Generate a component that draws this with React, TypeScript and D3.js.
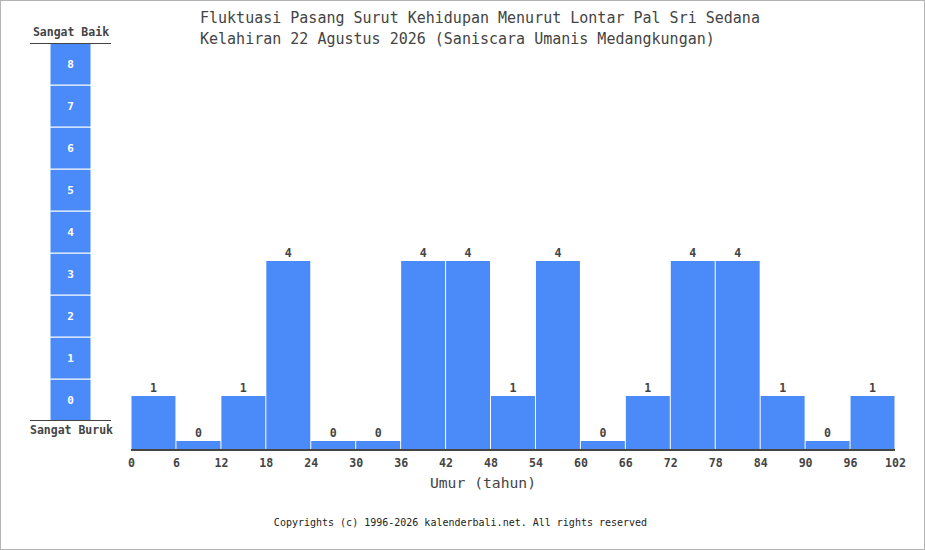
import React, { useEffect, useRef } from "react";
import * as d3 from "d3";

// values per 6-year period
const ages: number[] = [0, 6, 12, 18, 24, 30, 36, 42, 48, 54, 60, 66, 72, 78, 84, 90, 96];
const values: number[] = [1, 0, 1, 4, 0, 0, 4, 4, 1, 4, 0, 1, 4, 4, 1, 0, 1];
const xTicks: number[] = [0, 6, 12, 18, 24, 30, 36, 42, 48, 54, 60, 66, 72, 78, 84, 90, 96, 102];
const scaleLevels: number[] = [0, 1, 2, 3, 4, 5, 6, 7, 8];

const titleLines: string[] = [
  "Fluktuasi Pasang Surut Kehidupan Menurut Lontar Pal Sri Sedana",
  "Kelahiran 22 Agustus 2026 (Saniscara Umanis Medangkungan)",
];

const width = 925;
const height = 550;
const blue = "#4b8bf9";
const ink = "#444";
const mono = "'DejaVu Sans Mono', 'Liberation Mono', monospace";

const App = () => {
  const ref: any = useRef(null);

  useEffect(() => {
    d3.select(ref.current).selectAll("*").remove();

    const svg = d3
      .select(ref.current)
      .append("svg")
      .attr("width", width)
      .attr("height", height)
      .attr("viewBox", `0 0 ${width} ${height}`)
      .style("position", "absolute")
      .style("left", "0px")
      .style("top", "0px")
      .style("font-family", mono);

    svg
      .append("rect")
      .attr("x", 0.5)
      .attr("y", 0.5)
      .attr("width", width - 1)
      .attr("height", height - 1)
      .attr("fill", "#fff")
      .attr("stroke", "#b4b4b4");

    // title
    titleLines.forEach((t, i) => {
      svg
        .append("text")
        .attr("x", 200)
        .attr("y", 23 + i * 21)
        .attr("fill", ink)
        .style("font-size", "15px")
        .text(t);
    });

    // Scales
    const xScale = d3.scaleLinear().domain([0, 102]).range([131, 895]);
    const yScale = d3.scaleLinear().domain([-0.2, 8]).range([450, 81]);

    // left level column
    const levelScale = d3.scaleBand<number>().domain(scaleLevels.slice().reverse()).range([43, 421]);
    const lvl = svg.append("g");
    lvl
      .selectAll("rect")
      .data(scaleLevels)
      .join("rect")
      .attr("x", 50)
      .attr("width", 41)
      .attr("y", (d) => levelScale(d) || 0)
      .attr("height", levelScale.bandwidth())
      .attr("fill", blue)
      .attr("stroke", "#fff")
      .attr("stroke-width", 1);
    lvl
      .selectAll("text")
      .data(scaleLevels)
      .join("text")
      .attr("x", 70.5)
      .attr("y", (d) => (levelScale(d) || 0) + levelScale.bandwidth() / 2)
      .attr("dy", "0.35em")
      .attr("text-anchor", "middle")
      .attr("fill", "#fff")
      .style("font-size", "11px")
      .style("font-weight", "bold")
      .text((d) => d);

    lvl.append("line").attr("x1", 30).attr("x2", 111).attr("y1", 43.5).attr("y2", 43.5).attr("stroke", ink);
    lvl.append("line").attr("x1", 30).attr("x2", 111).attr("y1", 420.5).attr("y2", 420.5).attr("stroke", ink);
    lvl
      .append("text")
      .attr("x", 71)
      .attr("y", 36)
      .attr("text-anchor", "middle")
      .attr("fill", ink)
      .style("font-size", "11.5px")
      .style("font-weight", "bold")
      .text("Sangat Baik");
    lvl
      .append("text")
      .attr("x", 71.5)
      .attr("y", 434)
      .attr("text-anchor", "middle")
      .attr("fill", ink)
      .style("font-size", "11.5px")
      .style("font-weight", "bold")
      .text("Sangat Buruk");

    // bars
    const bars = svg.append("g");
    bars
      .selectAll("rect")
      .data(values)
      .join("rect")
      .attr("x", (d, i) => xScale(ages[i]) + 0.5)
      .attr("width", (d, i) => xScale(ages[i] + 6) - xScale(ages[i]) - 1)
      .attr("y", (d) => yScale(d))
      .attr("height", (d) => yScale(-0.2) - yScale(d))
      .attr("fill", blue);

    bars
      .selectAll("text")
      .data(values)
      .join("text")
      .attr("x", (d, i) => xScale(ages[i] + 3))
      .attr("y", (d) => yScale(d) - 4)
      .attr("text-anchor", "middle")
      .attr("fill", ink)
      .style("font-size", "11.6px")
      .style("font-weight", "bold")
      .text((d) => d);

    // X axis
    const xAxis = d3.axisBottom(xScale).tickValues(xTicks).tickSize(0).tickPadding(9);
    const ax = svg.append("g").attr("transform", "translate(0,450)").call(xAxis);
    ax.select(".domain").attr("stroke", ink).attr("stroke-width", 2).attr("d", "M131,0H895");
    ax
      .selectAll("text")
      .attr("fill", ink)
      .style("font-family", mono)
      .style("font-size", "11.6px")
      .style("font-weight", "bold");

    // X axis label
    svg
      .append("text")
      .attr("x", 483)
      .attr("y", 488)
      .attr("text-anchor", "middle")
      .attr("fill", ink)
      .style("font-size", "14.7px")
      .text("Umur (tahun)");

    svg
      .append("text")
      .attr("x", 460.5)
      .attr("y", 526)
      .attr("text-anchor", "middle")
      .attr("fill", "#222")
      .style("font-size", "10px")
      .text("Copyrights (c) 1996-2026 kalenderbali.net. All rights reserved");
  }, []);

  return <div id="chart" ref={ref}></div>;
};

export default App;
